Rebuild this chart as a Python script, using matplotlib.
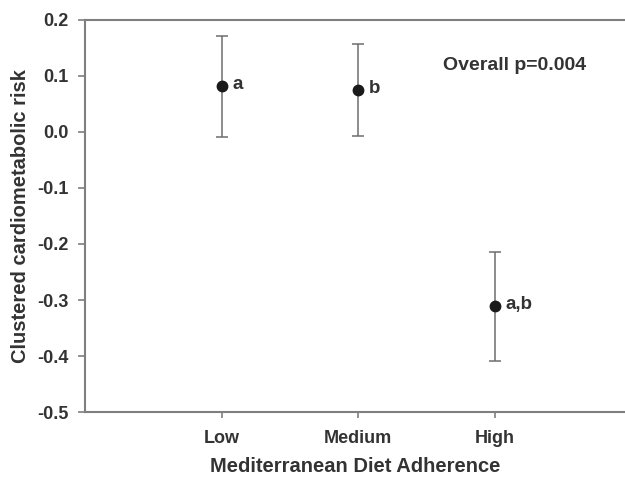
import matplotlib
matplotlib.use("Agg")
import matplotlib.pyplot as plt
import numpy as np

# Clustered cardiometabolic risk by Mediterranean diet adherence
groups = ["Low", "Medium", "High"]
means = [0.081, 0.075, -0.311]
upper = [0.170, 0.156, -0.214]
lower = [-0.010, -0.007, -0.409]
letters = ["a", "b", "a,b"]

yticks = [0.2, 0.1, 0.0, -0.1, -0.2, -0.3, -0.4, -0.5]

plt.rcParams["font.family"] = ["Liberation Sans", "DejaVu Sans"]
plt.rcParams["font.weight"] = "bold"

axis_col = "#7f7f7f"
text_col = "#333333"

fig = plt.figure(figsize=(6.25, 4.78), dpi=100)
ax = fig.add_axes([0.136, 0.1374, 0.864, 0.8218])

x = np.arange(1, len(groups) + 1)
means_arr = np.array(means)
yerr = np.vstack([means_arr - np.array(lower), np.array(upper) - means_arr])

ax.errorbar(x, means_arr, yerr=yerr, fmt="none", ecolor="#6e6e6e",
            elinewidth=1.1, capsize=4.5, capthick=1.1, zorder=2)
ax.plot(x, means_arr, "o", color="#1a1a1a", markersize=7.5, zorder=3)

for xi, yi, lab in zip(x, means, letters):
    ax.annotate(lab, (xi, yi), xytext=(8, 1), textcoords="offset points",
                ha="left", va="center", fontsize=13.5, fontweight="bold",
                color=text_col)

ax.text(2.62, 0.118, "Overall p=0.004", fontsize=14, fontweight="bold",
        color=text_col, ha="left", va="center")

ax.set_xlim(0, 3.956)
ax.set_ylim(-0.5, 0.2)
ax.set_xticks(x)
ax.set_xticklabels(groups)
ax.set_yticks(yticks)
ax.set_yticklabels([f"{v:.1f}" for v in yticks])

for side in ["left", "bottom", "top"]:
    ax.spines[side].set_color(axis_col)
    ax.spines[side].set_linewidth(1.5)
ax.spines["right"].set_visible(False)

ax.tick_params(axis="both", direction="out", color=axis_col, width=1.2,
               labelcolor=text_col, labelsize=13)
ax.tick_params(axis="y", length=5, pad=7)
ax.tick_params(axis="x", length=4, pad=9)
for lab in ax.get_xticklabels() + ax.get_yticklabels():
    lab.set_fontweight("bold")

ax.set_xlabel("Mediterranean Diet Adherence", fontsize=14.5, fontweight="bold",
              color=text_col, labelpad=7)
ax.set_ylabel("Clustered cardiometabolic risk", fontsize=14.5, fontweight="bold",
              color=text_col, labelpad=5)

fig.savefig("out.png", dpi=100)
